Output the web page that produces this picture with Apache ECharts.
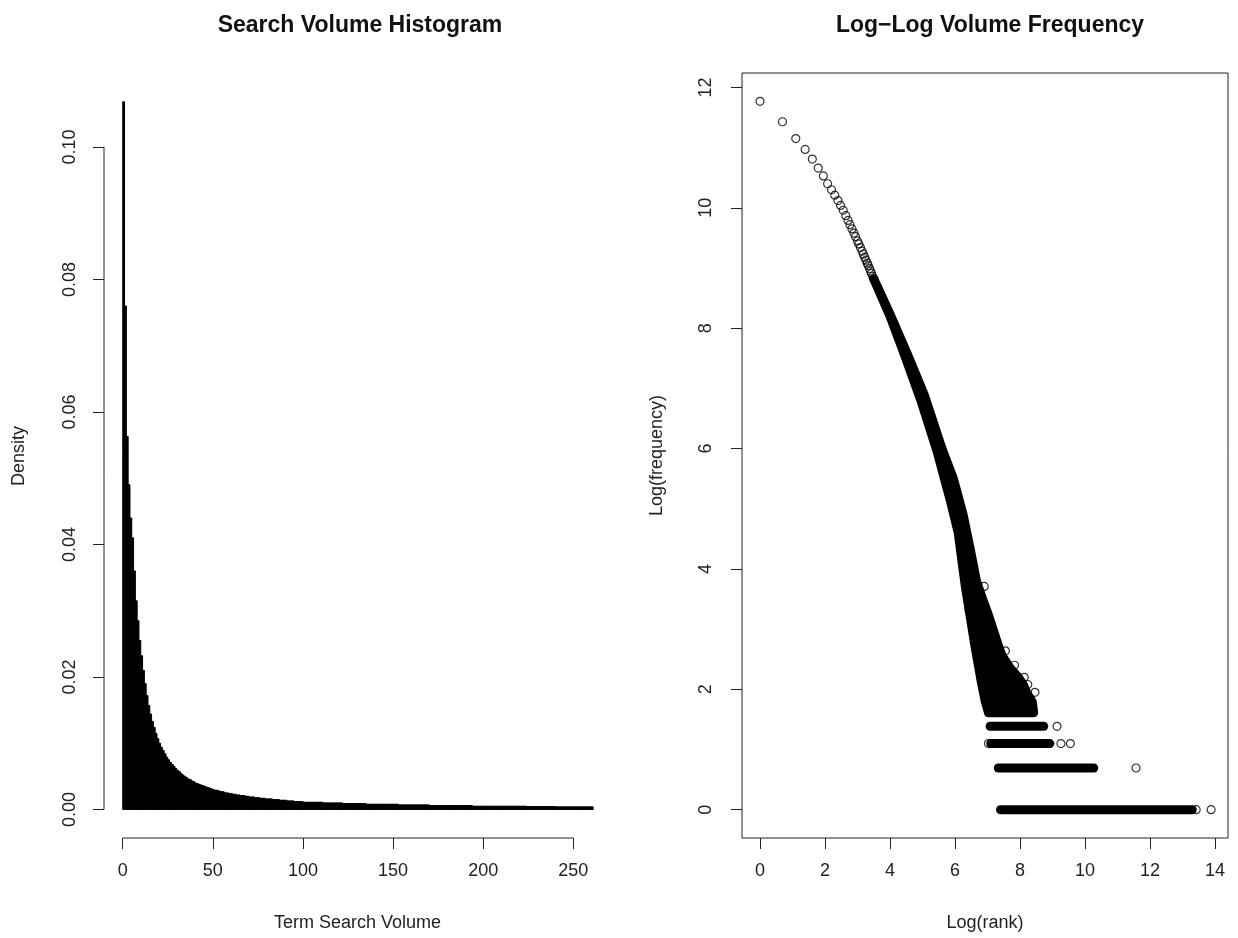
<!DOCTYPE html>
<html>
<head>
<meta charset="utf-8">
<title>Search volume</title>
<script src="https://cdn.jsdelivr.net/npm/echarts@6/dist/echarts.min.js"></script>
<style>
  html, body { margin: 0; padding: 0; background: #fff; }
  #chart { width: 1238px; height: 938px; }
</style>
</head>
<body>
<div id="chart"></div>
<script>
// histogram: density per unit-width bin of term search volume, bin i = [i, i+1)
const volumeDensity = [
  0.1068, 0.0760, 0.0563, 0.0490, 0.0440, 0.0410, 0.0360, 0.0315, 0.0285, 0.0255,
  0.0232, 0.0210, 0.0190, 0.0172, 0.0157, 0.0144, 0.0133, 0.0124, 0.0115, 0.0107,
  0.0100, 0.0094, 0.0089, 0.0084, 0.0079, 0.0075, 0.0071, 0.0068, 0.0065, 0.0062,
  0.0059, 0.0057, 0.0054, 0.0052, 0.0050, 0.0048, 0.0046, 0.0045, 0.0043, 0.0042,
  0.0040, 0.0039, 0.0038, 0.0037, 0.0036, 0.0035, 0.0034, 0.0033, 0.0032, 0.0031,
  0.0030, 0.0029, 0.0029, 0.0028, 0.0027, 0.0027, 0.0026, 0.0025, 0.0025, 0.0024,
  0.0024, 0.0023, 0.0023, 0.0022, 0.0022, 0.0021, 0.0021, 0.0021, 0.0020, 0.0020,
  0.0019, 0.0019, 0.0019, 0.0018, 0.0018, 0.0018, 0.0017, 0.0017, 0.0017, 0.0016,
  0.0016, 0.0016, 0.0016, 0.0015, 0.0015, 0.0015, 0.0015, 0.0014, 0.0014, 0.0014,
  0.0014, 0.0013, 0.0013, 0.0013, 0.0013, 0.0012, 0.0012, 0.0012, 0.0012, 0.0012,
  0.0011, 0.0011, 0.0011, 0.0011, 0.0011, 0.0011, 0.0011, 0.0011, 0.0011, 0.0011,
  0.0011, 0.0010, 0.0010, 0.0010, 0.0010, 0.0010, 0.0010, 0.0010, 0.0010, 0.0010,
  0.0010, 0.0010, 0.0009, 0.0009, 0.0009, 0.0009, 0.0009, 0.0009, 0.0009, 0.0009,
  0.0009, 0.0009, 0.0009, 0.0009, 0.0009, 0.0008, 0.0008, 0.0008, 0.0008, 0.0008,
  0.0008, 0.0008, 0.0008, 0.0008, 0.0008, 0.0008, 0.0008, 0.0008, 0.0008, 0.0008,
  0.0008, 0.0008, 0.0008, 0.0007, 0.0007, 0.0007, 0.0007, 0.0007, 0.0007, 0.0007,
  0.0007, 0.0007, 0.0007, 0.0007, 0.0007, 0.0007, 0.0007, 0.0007, 0.0007, 0.0007,
  0.0006, 0.0006, 0.0006, 0.0006, 0.0006, 0.0006, 0.0006, 0.0006, 0.0006, 0.0006,
  0.0006, 0.0006, 0.0006, 0.0006, 0.0006, 0.0006, 0.0006, 0.0006, 0.0006, 0.0006,
  0.0006, 0.0006, 0.0006, 0.0006, 0.0005, 0.0005, 0.0005, 0.0005, 0.0005, 0.0005,
  0.0005, 0.0005, 0.0005, 0.0005, 0.0005, 0.0005, 0.0005, 0.0005, 0.0005, 0.0005,
  0.0005, 0.0005, 0.0005, 0.0005, 0.0005, 0.0005, 0.0005, 0.0005, 0.0005, 0.0005,
  0.0005, 0.0005, 0.0005, 0.0005, 0.00045, 0.00045, 0.00045, 0.00045, 0.00045, 0.00045,
  0.00045, 0.00045, 0.00045, 0.00045, 0.00045, 0.00045, 0.00045, 0.00045, 0.00045, 0.00045,
  0.0004, 0.0004, 0.0004, 0.0004, 0.0004, 0.0004, 0.0004, 0.0004, 0.0004, 0.0004,
  0.0004, 0.0004, 0.0004, 0.0004, 0.0004, 0.0004, 0.0004, 0.0004, 0.0004, 0.0004,
  0.0004
];
const histXTicks = [0, 50, 100, 150, 200, 250];
const histYTicks = [0, 0.02, 0.04, 0.06, 0.08, 0.10];

// log-log plot: the first ranks, drawn one circle each
const topLogRank = [0, 0.69, 1.10, 1.39, 1.61, 1.79, 1.95, 2.08, 2.20, 2.30, 2.40, 2.48, 2.56, 2.64, 2.71, 2.77, 2.83, 2.89, 2.94, 3.00,
                    3.04, 3.09, 3.14, 3.18, 3.22, 3.26, 3.30, 3.33, 3.37, 3.40, 3.43, 3.47, 3.50];
const topLogFreq = [11.77, 11.43, 11.15, 10.97, 10.81, 10.66, 10.53, 10.40, 10.30, 10.21, 10.12, 10.04, 9.96, 9.87, 9.79, 9.72, 9.65, 9.58, 9.52, 9.45,
                    9.40, 9.34, 9.28, 9.23, 9.18, 9.13, 9.08, 9.04, 8.99, 8.95, 8.91, 8.86, 8.82];

// outline of the dense band of circles (left edge down, right edge back up)
const bandLogRank = [3.50, 4.00, 4.45, 4.95, 5.45, 5.85, 6.10, 6.22, 6.32, 6.47, 6.62, 6.80, 6.93, 7.03,
                     8.42, 8.38, 8.20, 8.10, 7.95, 7.70, 7.45, 7.35, 7.05, 6.85, 6.66, 6.48, 6.25, 5.95, 5.60, 5.05, 4.55, 4.03, 3.52];
const bandLogFreq = [8.82, 8.20, 7.55, 6.80, 5.95, 5.15, 4.60, 4.10, 3.70, 3.20, 2.70, 2.15, 1.80, 1.61,
                     1.61, 1.79, 1.95, 2.08, 2.20, 2.35, 2.56, 2.70, 3.20, 3.50, 3.80, 4.30, 4.90, 5.50, 6.00, 6.90, 7.55, 8.20, 8.80];

// rows of tied frequencies: log(freq) level and log(rank) extent
const rowLogFreq = [0, 0.693, 1.099, 1.386];
const rowStart = [7.40, 7.33, 7.10, 7.08];
const rowEnd = [13.30, 10.27, 8.92, 8.73];

// stray circles off the band
const strayLogRank = [6.90, 7.55, 7.83, 8.13, 8.24, 8.46, 9.14, 9.26, 9.55, 11.57, 13.42, 13.88, 7.03, 6.43];
const strayLogFreq = [3.71, 2.64, 2.40, 2.20, 2.08, 1.95, 1.386, 1.099, 1.099, 0.693, 0, 0, 1.099, 3.32];

const rankTicks = [0, 2, 4, 6, 8, 10, 12, 14];
const freqTicks = [0, 2, 4, 6, 8, 10, 12];

const FONT = '"Liberation Sans", Arial, Helvetica, sans-serif';
const INK = '#222';

const histMinX = -10.4, histMaxX = 270.9, histMinY = -0.0043, histMaxY = 0.111;

let chart = echarts.init(document.getElementById('chart'));

const labelStyle = { color: INK, fontSize: 18, fontFamily: FONT };
const tickStyle = { lineStyle: { color: INK, width: 1 }, length: 11, inside: false };

chart.setOption({
  animation: false,
  backgroundColor: '#fff',
  title: [
    { text: 'Search Volume Histogram', left: 355, top: 9, textAlign: 'center',
      textStyle: { fontSize: 23, fontWeight: 'bold', color: '#111', fontFamily: FONT } },
    { text: 'Log\u2212Log Volume Frequency', left: 985, top: 9, textAlign: 'center',
      textStyle: { fontSize: 23, fontWeight: 'bold', color: '#111', fontFamily: FONT } }
  ],
  grid: [
    { left: 104, top: 74, width: 507, height: 764, show: false },
    { left: 742, top: 73, width: 486, height: 765, show: true, borderColor: INK, borderWidth: 1, backgroundColor: 'transparent' }
  ],
  xAxis: [
    {
      gridIndex: 0, type: 'value', min: histMinX, max: histMaxX,
      name: 'Term Search Volume', nameLocation: 'middle', nameGap: 76,
      nameTextStyle: labelStyle,
      axisLine: { show: false, onZero: false },
      axisTick: Object.assign({ show: true, customValues: histXTicks }, tickStyle),
      axisLabel: Object.assign({ customValues: histXTicks, margin: 24 }, labelStyle),
      splitLine: { show: false }
    },
    {
      gridIndex: 1, type: 'value', min: -0.554, max: 14.4,
      name: 'Log(rank)', nameLocation: 'middle', nameGap: 76,
      nameTextStyle: labelStyle,
      axisLine: { show: false, onZero: false },
      axisTick: Object.assign({ show: true, customValues: rankTicks }, tickStyle),
      axisLabel: Object.assign({ customValues: rankTicks, margin: 24 }, labelStyle),
      splitLine: { show: false }
    }
  ],
  yAxis: [
    {
      gridIndex: 0, type: 'value', min: histMinY, max: histMaxY,
      name: 'Density', nameLocation: 'middle', nameGap: 76,
      nameTextStyle: labelStyle,
      axisLine: { show: false, onZero: false },
      axisTick: Object.assign({ show: true, customValues: histYTicks }, tickStyle),
      axisLabel: Object.assign({ customValues: histYTicks, margin: 25, rotate: 90,
        formatter: function (v) { return v.toFixed(2); } }, labelStyle),
      splitLine: { show: false }
    },
    {
      gridIndex: 1, type: 'value', min: -0.47, max: 12.24,
      name: 'Log(frequency)', nameLocation: 'middle', nameGap: 76,
      nameTextStyle: labelStyle,
      axisLine: { show: false, onZero: false },
      axisTick: Object.assign({ show: true, customValues: freqTicks }, tickStyle),
      axisLabel: Object.assign({ customValues: freqTicks, margin: 27, rotate: 90 }, labelStyle),
      splitLine: { show: false }
    }
  ],
  series: [
    {
      // histogram bars
      type: 'custom', xAxisIndex: 0, yAxisIndex: 0,
      data: volumeDensity.map(function (d, i) { return [i, i + 1, d]; }),
      renderItem: function (params, api) {
        const p0 = api.coord([api.value(0), api.value(2)]);
        const p1 = api.coord([api.value(1), 0]);
        return {
          type: 'rect',
          shape: { x: p0[0], y: p0[1], width: p1[0] - p0[0], height: p1[1] - p0[1] },
          style: { fill: '#000', stroke: '#000', lineWidth: 1 }
        };
      }
    },
    {
      // R-style detached axis lines of the histogram
      type: 'custom', xAxisIndex: 0, yAxisIndex: 0, clip: false, silent: true,
      data: [
        [histMinX, histYTicks[0], histMinX, histYTicks[histYTicks.length - 1]],
        [histXTicks[0], histMinY, histXTicks[histXTicks.length - 1], histMinY]
      ],
      renderItem: function (params, api) {
        const a = api.coord([api.value(0), api.value(1)]);
        const b = api.coord([api.value(2), api.value(3)]);
        return {
          type: 'line',
          shape: { x1: a[0], y1: a[1], x2: b[0], y2: b[1] },
          style: { stroke: INK, lineWidth: 1 }
        };
      }
    },
    {
      // dense band of overlapping circles
      type: 'custom', xAxisIndex: 1, yAxisIndex: 1,
      data: [0],
      renderItem: function (params, api) {
        const pts = bandLogRank.map(function (x, i) { return api.coord([x, bandLogFreq[i]]); });
        return {
          type: 'polygon',
          shape: { points: pts },
          style: { fill: '#000', stroke: '#000', lineWidth: 9, lineJoin: 'round' }
        };
      }
    },
    {
      // rows of tied low frequencies
      type: 'custom', xAxisIndex: 1, yAxisIndex: 1,
      data: rowLogFreq.map(function (y, i) { return [rowStart[i], rowEnd[i], y]; }),
      renderItem: function (params, api) {
        const a = api.coord([api.value(0), api.value(2)]);
        const b = api.coord([api.value(1), api.value(2)]);
        return {
          type: 'line',
          shape: { x1: a[0], y1: a[1], x2: b[0], y2: b[1] },
          style: { stroke: '#000', lineWidth: 9, lineCap: 'round' }
        };
      }
    },
    {
      type: 'scatter', xAxisIndex: 1, yAxisIndex: 1,
      symbol: 'circle', symbolSize: 8,
      itemStyle: { color: 'rgba(0,0,0,0)', borderColor: '#000', borderWidth: 1.2 },
      data: topLogRank.map(function (x, i) { return [x, topLogFreq[i]]; })
        .concat(strayLogRank.map(function (x, i) { return [x, strayLogFreq[i]]; }))
    }
  ]
});
window.addEventListener('resize', () => {
  chart.resize()
})
</script>
</body>
</html>
